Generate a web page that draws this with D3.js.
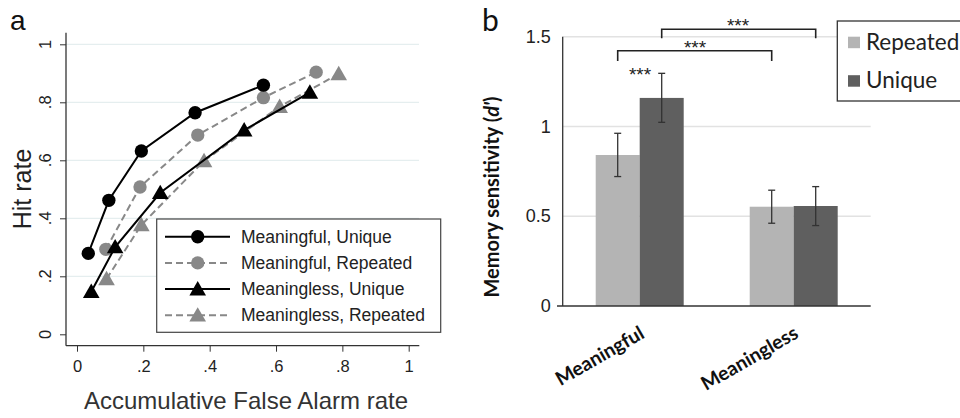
<!DOCTYPE html>
<html>
<head>
<meta charset="UTF-8">
<style>
  body { margin: 0; background: #fff; }
  svg { display: block; }
  .fa { font-family: "Liberation Sans", Arial, sans-serif; }
  .fb { font-family: Lato, "Open Sans", sans-serif; }
</style>
</head>
<body>
<svg width="960" height="418"></svg>
<script src="https://d3js.org/d3.v7.min.js"></script>
<script>
// ---- panel a data (ROC curves) ----
let rocSeries = ["Meaningful, Unique", "Meaningful, Repeated", "Meaningless, Unique", "Meaningless, Repeated"];
let rocFA = [
  [0.034, 0.096, 0.194, 0.356, 0.562],
  [0.087, 0.190, 0.364, 0.562, 0.721],
  [0.043, 0.115, 0.251, 0.504, 0.702],
  [0.089, 0.194, 0.383, 0.611, 0.789]
];
let rocHit = [
  [0.279, 0.462, 0.632, 0.764, 0.859],
  [0.293, 0.508, 0.687, 0.816, 0.904],
  [0.147, 0.301, 0.488, 0.704, 0.834],
  [0.191, 0.377, 0.598, 0.785, 0.898]
];
let aTicks = [0, 0.2, 0.4, 0.6, 0.8, 1];
let aTickLabels = ["0", ".2", ".4", ".6", ".8", "1"];

// ---- panel b data (d') ----
let conditions = ["Meaningful", "Meaningless"];
let groups = ["Repeated", "Unique"];
let dprime = [[0.841, 1.159], [0.553, 0.557]];
let errLow = [[0.721, 1.023], [0.461, 0.448]];
let errHigh = [[0.962, 1.296], [0.645, 0.665]];
let bTicks = [0, 0.5, 1, 1.5];

let svg = d3.select("svg");

// ================= panel a =================
let xa = d3.scaleLinear().domain([0, 1]).range([77, 408.7]);
let ya = d3.scaleLinear().domain([0, 1]).range([334.3, 44.3]);
let ga = svg.append("g").attr("class", "fa");

// light gridlines
ga.selectAll(".grid").data(aTicks.slice(1)).enter().append("line")
  .attr("x1", 66).attr("x2", 419)
  .attr("y1", d => ya(d)).attr("y2", d => ya(d))
  .attr("stroke", "#dfeaec").attr("stroke-width", 1);

// axes (ticks from d3, labels on y drawn rotated)
let yAxA = ga.append("g").attr("transform", "translate(66,0)")
  .call(d3.axisLeft(ya).tickValues(aTicks).tickFormat("").tickSize(6));
yAxA.select(".domain").remove();
yAxA.selectAll("line").attr("stroke", "#333");

ga.selectAll(".ylab").data(aTicks).enter().append("text")
  .attr("transform", d => "translate(51," + ya(d) + ") rotate(-90)")
  .attr("text-anchor", "middle")
  .attr("font-size", 16.5).attr("fill", "#222")
  .text((d, i) => aTickLabels[i]);

let xAxA = ga.append("g").attr("transform", "translate(0,345.7)")
  .call(d3.axisBottom(xa).tickValues(aTicks).tickFormat((d, i) => aTickLabels[i]).tickSize(6));
xAxA.select(".domain").remove();
xAxA.selectAll("line").attr("stroke", "#333");
xAxA.selectAll("text").attr("font-size", 16.5).attr("fill", "#222").attr("dy", "1.05em");

ga.append("line").attr("x1", 66).attr("x2", 66).attr("y1", 32.7).attr("y2", 345.7)
  .attr("stroke", "#333").attr("stroke-width", 1.3);
ga.append("line").attr("x1", 66).attr("x2", 419.3).attr("y1", 345.7).attr("y2", 345.7)
  .attr("stroke", "#333").attr("stroke-width", 1.3);

// titles
ga.append("text").attr("x", 246).attr("y", 409).attr("text-anchor", "middle")
  .attr("font-size", 24).attr("fill", "#333").text("Accumulative False Alarm rate");
ga.append("text").attr("transform", "translate(31,189) rotate(-90)").attr("text-anchor", "middle")
  .attr("font-size", 25).attr("fill", "#222").text("Hit rate");
ga.append("text").attr("x", 10).attr("y", 30).attr("font-size", 28).attr("fill", "#111").text("a");

// series styles
let sColor = ["#000", "#888", "#000", "#888"];
let sDash = [null, "7,4", null, "7,4"];
let sShape = [d3.symbolCircle, d3.symbolCircle, d3.symbolTriangle, d3.symbolTriangle];
let sSize = [140, 140, 120, 120];

let lineGen = d3.line().x(d => xa(d[0])).y(d => ya(d[1]));
let drawOrder = [3, 1, 2, 0];
drawOrder.forEach(s => {
  let pts = rocFA[s].map((v, i) => [v, rocHit[s][i]]);
  let g = ga.append("g");
  g.append("path").datum(pts).attr("d", lineGen)
    .attr("fill", "none").attr("stroke", sColor[s]).attr("stroke-width", 2)
    .attr("stroke-dasharray", sDash[s]);
  g.selectAll("path.m").data(pts).enter().append("path").attr("class", "m")
    .attr("d", d3.symbol().type(sShape[s]).size(sSize[s]))
    .attr("transform", d => "translate(" + xa(d[0]) + "," + (ya(d[1]) + (s > 1 ? 1.5 : 0)) + ")")
    .attr("fill", sColor[s]);
});

// legend a
let lgA = ga.append("g");
lgA.append("rect").attr("x", 156.7).attr("y", 219).attr("width", 284).attr("height", 113.3)
  .attr("fill", "#fff").attr("stroke", "#444").attr("stroke-width", 1.2);
rocSeries.forEach((name, s) => {
  let yy = 236.7 + s * 26.2;
  lgA.append("line").attr("x1", 165).attr("x2", 230).attr("y1", yy).attr("y2", yy)
    .attr("stroke", sColor[s]).attr("stroke-width", 2).attr("stroke-dasharray", sDash[s]);
  lgA.append("path").attr("d", d3.symbol().type(sShape[s]).size(sSize[s]))
    .attr("transform", "translate(197.7," + (yy + (s > 1 ? 1.5 : 0)) + ")").attr("fill", sColor[s]);
  lgA.append("text").attr("x", 241).attr("y", yy + 6).attr("font-size", 17.5)
    .attr("fill", "#222").text(name);
});

// ================= panel b =================
let gb = svg.append("g").attr("class", "fb");
let yb = d3.scaleLinear().domain([0, 1.5]).range([306, 36.7]);
let x0 = d3.scaleBand().domain(conditions).range([562.7, 870.7]).paddingInner(0.4286).paddingOuter(0.2143);
let x1 = d3.scaleBand().domain(groups).range([0, x0.bandwidth()]);
let barColor = d3.scaleOrdinal().domain(groups).range(["#b4b4b4", "#5f5f5f"]);

gb.selectAll(".gridb").data(bTicks.slice(1)).enter().append("line")
  .attr("x1", 562.7).attr("x2", 870.7)
  .attr("y1", d => yb(d)).attr("y2", d => yb(d))
  .attr("stroke", "#e2e2e2").attr("stroke-width", 1.5);

let yAxB = gb.append("g").attr("transform", "translate(562.7,0)")
  .call(d3.axisLeft(yb).tickValues(bTicks).tickFormat(d => d).tickSize(0).tickPadding(12));
yAxB.select(".domain").remove();
yAxB.selectAll("text").attr("font-size", 18).attr("fill", "#222");

gb.append("line").attr("x1", 562.7).attr("x2", 562.7).attr("y1", 36.7).attr("y2", 306)
  .attr("stroke", "#333").attr("stroke-width", 1.3);

// bars
conditions.forEach((c, ci) => {
  groups.forEach((g, gi) => {
    let bx = x0(c) + x1(g);
    gb.append("rect").attr("x", bx).attr("y", yb(dprime[ci][gi]))
      .attr("width", x1.bandwidth()).attr("height", yb(0) - yb(dprime[ci][gi]))
      .attr("fill", barColor(g));
    let cx = bx + x1.bandwidth() / 2;
    let eb = gb.append("g").attr("stroke", "#333").attr("stroke-width", 1.3);
    eb.append("line").attr("x1", cx).attr("x2", cx).attr("y1", yb(errLow[ci][gi])).attr("y2", yb(errHigh[ci][gi]));
    eb.append("line").attr("x1", cx - 3.5).attr("x2", cx + 3.5).attr("y1", yb(errLow[ci][gi])).attr("y2", yb(errLow[ci][gi]));
    eb.append("line").attr("x1", cx - 3.5).attr("x2", cx + 3.5).attr("y1", yb(errHigh[ci][gi])).attr("y2", yb(errHigh[ci][gi]));
  });
});

gb.append("line").attr("x1", 557).attr("x2", 870.7).attr("y1", 306).attr("y2", 306)
  .attr("stroke", "#333").attr("stroke-width", 1.5);

// category labels
conditions.forEach(c => {
  let cx = x0(c) + x0.bandwidth() / 2 + 6;
  gb.append("text").attr("transform", "translate(" + cx + ",337) rotate(-30)")
    .attr("text-anchor", "end").attr("font-size", 19.5).attr("font-weight", "bold")
    .attr("fill", "#111").text(c);
});

// y title
let yt = gb.append("text").attr("transform", "translate(499,197) rotate(-90)").attr("text-anchor", "middle")
  .attr("font-size", 20).attr("font-weight", "bold").attr("fill", "#111");
yt.append("tspan").text("Memory sensitivity (");
yt.append("tspan").attr("font-style", "italic").text("d'");
yt.append("tspan").text(")");

gb.append("text").attr("x", 482).attr("y", 31).attr("font-size", 30).attr("fill", "#111").text("b");

// significance brackets
function bracket(xL, xR, yTop, yBot, tx, ty) {
  gb.append("path").attr("d", "M" + xL + "," + yBot + "V" + yTop + "H" + xR + "V" + yBot)
    .attr("fill", "none").attr("stroke", "#222").attr("stroke-width", 1.6);
  gb.append("text").attr("x", tx).attr("y", ty).attr("text-anchor", "middle")
    .attr("font-family", "'Liberation Sans', Arial, sans-serif")
    .attr("font-size", 19).attr("fill", "#222").text("***");
}
let cMF = x0("Meaningful"), cML = x0("Meaningless");
bracket(cMF + x1("Repeated") + x1.bandwidth() / 2, cML + x1("Repeated") + x1.bandwidth() / 2, 50.7, 61, 695, 54);
bracket(cMF + x1("Unique") + x1.bandwidth() / 2, cML + x1("Unique") + x1.bandwidth() / 2, 29.3, 38.3, 738, 32);
gb.append("text").attr("x", 640).attr("y", 81).attr("text-anchor", "middle")
  .attr("font-family", "'Liberation Sans', Arial, sans-serif")
  .attr("font-size", 19).attr("fill", "#222").text("***");

// legend b
let lgB = gb.append("g");
lgB.append("rect").attr("x", 837.3).attr("y", 21).attr("width", 140).attr("height", 80)
  .attr("fill", "#fff").attr("stroke", "#333").attr("stroke-width", 1.3);
groups.forEach((g, i) => {
  let yy = 36.7 + i * 38.5;
  lgB.append("rect").attr("x", 848).attr("y", yy).attr("width", 12).attr("height", 11.5).attr("fill", barColor(g));
  lgB.append("text").attr("x", 866).attr("y", yy + 13).attr("font-size", 22.5).attr("fill", "#222").text(g);
});
</script>
</body>
</html>
